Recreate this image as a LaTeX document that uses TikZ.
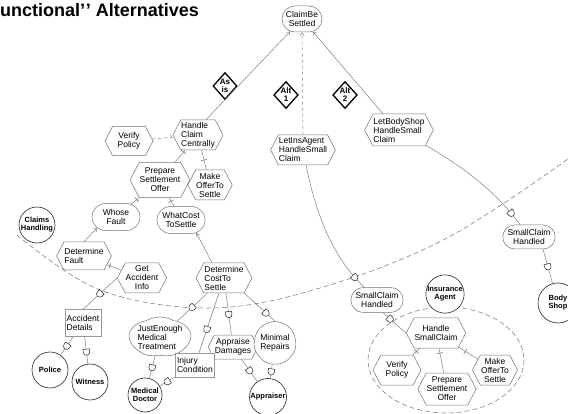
\documentclass[tikz,border=0pt]{standalone}
\usepackage{fontspec}
\setmainfont{Liberation Sans}
\usetikzlibrary{shapes.geometric,shapes.symbols,shapes.misc,decorations.markings,arrows.meta}
\begin{document}
\begin{tikzpicture}[x=1pt,y=-1pt,
  every node/.style={font=\fontsize{8.5}{9}\selectfont, inner sep=1pt, align=center},
  base/.style={draw=black!55, line width=0.5pt, fill=white},
  task/.style={base, signal, signal to=east and west, signal pointer angle=125, inner xsep=0.5pt, inner ysep=1pt},
  goal/.style={base, rounded rectangle, inner xsep=2pt, inner ysep=1pt},
  softgoal/.style={base, cloud, cloud puffs=7, cloud puff arc=60, cloud ignores aspect, inner sep=0pt},
  resource/.style={draw=black!40, line width=0.5pt, fill=white, rectangle, inner sep=1.5pt},
  actor/.style={draw=black!85, line width=0.6pt, fill=white, circle, font=\fontsize{7.5}{8}\selectfont\bfseries, inner sep=0pt},
  altbox/.style={draw=black, line width=1.3pt, fill=white, diamond, font=\fontsize{8}{8}\selectfont\bfseries, inner sep=0pt, minimum width=24pt, minimum height=27pt},
  bound/.style={draw=black!55, line width=0.5pt, dash pattern=on 5pt off 3pt},
  conn/.style={draw=black!50, line width=0.5pt},
  meansend/.style={conn, -{Straight Barb[length=3pt,width=4pt]}},
  dec/.style={conn, postaction={decorate, decoration={markings, mark=at position #1 with {\draw[black!60, line width=0.5pt] (0,-3) -- (0,3);}}}},
  dec/.default=0.5,
  dep/.style={conn, postaction={decorate, decoration={markings, mark=at position #1 with {\draw[black!85, line width=0.5pt, fill=white] (-2.5,-3.2) -- (0.5,-3.2) arc (-90:90:3.2) -- (-2.5,3.2) -- cycle;}}}},
  dep/.default=0.5,
]
\useasboundingbox (0,0) rectangle (568,414);

% boundaries
\draw[bound] plot[smooth, tension=0.6] coordinates {(17,235) (100,290) (210,308) (320,288) (447,238) (572,156)};
\draw[bound] (446,360) ellipse [x radius=78, y radius=53];

% title
\node[anchor=base west, font=\fontsize{18}{18}\selectfont\bfseries, inner sep=0pt] (title) at (0,17) {unctional’\kern0.6pt’ Alternatives};

% goals
\node[goal, minimum width=44pt, minimum height=26pt] (cbs) at (302,19) {ClaimBe\\Settled};
\node[goal, minimum width=52pt, minimum height=27pt] (wf) at (116,217) {Whose\\Fault};
\node[goal, minimum width=52pt, minimum height=27pt] (wcts) at (181,220) {WhatCost\\ToSettle};
\node[goal, minimum width=52pt, minimum height=25pt] (sch1) at (377,300) {SmallClaim\\Handled};
\node[goal, minimum width=52pt, minimum height=24pt] (sch2) at (529,237) {SmallClaim\\Handled};

% alternatives
\node[altbox] (asis) at (225,86) {As\\is};
\node[altbox] (alt1) at (286,95) {Alt\\1};
\node[altbox] (alt2) at (345,95) {Alt\\2};

% tasks
\node[task, align=left, minimum width=50pt, minimum height=30pt] (hcc) at (198,135) {Handle\\Claim\\Centrally};
\node[task, minimum width=48pt, minimum height=29pt] (vp1) at (129,141) {Verify\\Policy};
\node[task, minimum width=50pt, minimum height=35pt] (pso1) at (160,180) {Prepare\\Settlement\\Offer};
\node[task, minimum width=42pt, minimum height=30pt] (mots1) at (210,185) {Make\\OfferTo\\Settle};
\node[task, align=left, minimum width=48pt, minimum height=28pt] (df) at (84,256) {Determine\\Fault};
\node[task, minimum width=48pt, minimum height=30pt] (gai) at (142,278) {Get\\Accident\\Info};
\node[task, align=left, minimum width=48pt, minimum height=30pt] (dcs) at (224,278) {Determine\\CostTo\\Settle};
\node[task, minimum width=42pt, minimum height=24pt] (ad2) at (233,347) {Appraise\\Damages};
\node[task, align=left, minimum width=57pt, minimum height=30pt] (lia) at (303,150) {LetInsAgent\\HandleSmall\\Claim};
\node[task, align=left, minimum width=58pt, minimum height=32pt] (lbs) at (399,130) {LetBodyShop\\HandleSmall\\Claim};
\node[task, minimum width=48pt, minimum height=30pt] (hsc) at (436,333) {Handle\\SmallClaim};
\node[task, minimum width=48pt, minimum height=30pt] (vp2) at (397,370) {Verify\\Policy};
\node[task, minimum width=48pt, minimum height=32pt] (pso2) at (447,389) {Prepare\\Settlement\\Offer};
\node[task, minimum width=45pt, minimum height=30pt] (mots2) at (495,370) {Make\\OfferTo\\Settle};

% softgoals
\node[softgoal, align=left, minimum width=50pt, minimum height=40pt] (jemt) at (160,337) {JustEnough\\Medical\\Treatment};
\node[softgoal, minimum width=42pt, minimum height=43pt] (mr) at (275,343) {Minimal\\Repairs};

% resources
\node[resource, align=left, minimum width=30pt, minimum height=27pt] (adet) at (83,323) {Accident\\Details};
\node[resource, align=left, minimum width=32pt, minimum height=24pt] (ic) at (195,365) {Injury\\Condition};

% actors
\node[actor, minimum size=36pt] (ch) at (37,225) {Claims\\Handling};
\node[actor, minimum size=36pt] (pol) at (50,370) {Police};
\node[actor, minimum size=36pt] (wit) at (90,382) {Witness};
\node[actor, minimum size=34pt] (md) at (145,395) {Medical\\Doctor};
\node[actor, minimum size=37pt] (apr) at (268,397) {Appraiser};
\node[actor, minimum size=38pt] (ia) at (445,294) {Insurance\\Agent};
\node[actor, minimum size=40pt] (bs) at (558,303) {Body\\Shop};

% means-ends links
\draw[meansend] ([xshift=8pt]hcc.north) -- (cbs);
\draw[meansend, dashed] (lia) -- (cbs);
\draw[meansend] ([xshift=-16pt]lbs.north) -- (cbs);
\draw[meansend] (df.north) -- (wf.210);
\draw[meansend] ([xshift=-12pt]dcs.north) -- (wcts.-40);

% decompositions
\draw[dec=0.88, dashed] (vp1) -- (hcc);
\draw[dec=0.85] (pso1) -- (hcc);
\draw[dec=0.5] (mots1) -- (hcc);
\draw[dec=0.7] (wf) -- (pso1);
\draw[dec=0.6] (wcts) -- (pso1);
\draw[dec=0.8] (gai) -- (df);
\draw[dec=0.5] (hsc) -- (vp2);
\draw[dec=0.2] (hsc) -- (pso2);
\draw[dec=0.35] (hsc) -- (mots2);

% dependencies
\draw[dep=0.5] (gai.west) -- (adet.north);
\draw[dep=0.5] (adet) -- (pol);
\draw[dep=0.55] (adet) -- (wit);
\draw[dep=0.5] (dcs) -- (jemt);
\draw[dep=0.6] (dcs) -- (ic);
\draw[dep=0.5] (dcs) -- (ad2);
\draw[dep=0.7] (dcs.south east) -- (mr.north);
\draw[dep=0.5] (jemt) -- (md);
\draw[dep=0.5] (ic) -- (md);
\draw[dep=0.5] (ad2) -- (apr);
\draw[dep=0.5] (mr) -- (apr);
\draw[dep=0.9] (lia) .. controls (318,225) and (338,262) .. (sch1);
\draw[dep=0.3] ([xshift=6pt]sch1.south) -- (hsc.west);
\draw[dep=0.88] (lbs) .. controls (460,165) and (495,190) .. (sch2);
\draw[dep=0.5] ([xshift=14pt]sch2.south) -- (bs);
\end{tikzpicture}
\end{document}
